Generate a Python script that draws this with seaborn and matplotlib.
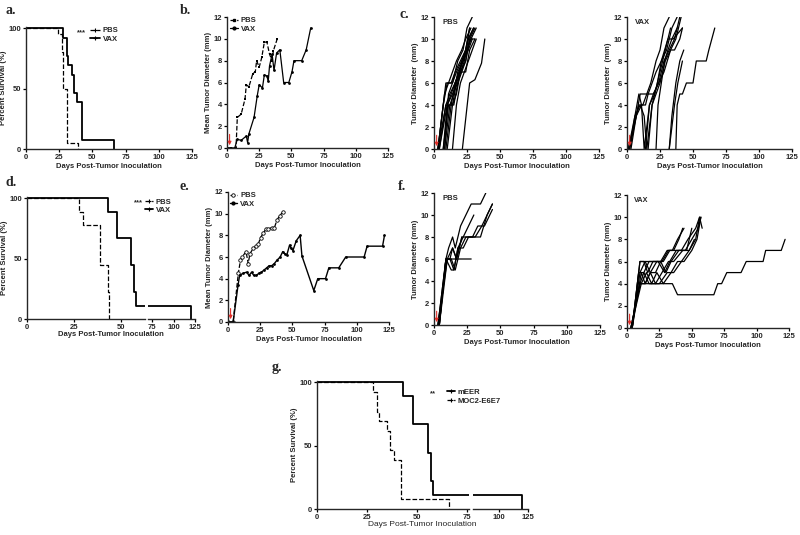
import matplotlib
matplotlib.use("Agg")
import matplotlib.pyplot as plt
from matplotlib.lines import Line2D
import numpy as np
import pandas as pd
import seaborn as sns

# ---------------- data ----------------
# a. survival (percent) step curves
a_pbs_days = [0, 24, 27, 28, 31, 39]
a_pbs_surv = [100, 95, 80, 50, 5, 0]
a_vax_days = [0, 28, 30.5, 32, 35, 36, 38.5, 42, 66]
a_vax_surv = [100, 92.3, 76.9, 69.2, 61.5, 46.2, 38.5, 7.7, 0]

# b. mean tumor diameter
b_pbs_days = [0, 3, 7, 8, 11, 14, 15, 17, 20, 22, 23, 25, 27, 29, 31, 33, 35, 36, 39]
b_pbs_mm = [0, 0, 0, 2.8, 3.1, 4.5, 5.8, 5.6, 6.8, 7.0, 8.0, 7.4, 8.3, 9.7, 9.7, 8.6, 8.0, 8.9, 10.0]
b_vax_days = [0, 3, 6, 8, 11, 15, 16, 17, 21, 23.5, 25, 27.5, 29, 31, 32, 33, 35, 36.5, 38.5,
              41, 44, 48, 50.5, 52, 58, 61.5, 65]
b_vax_mm = [0, 0, 0, 0.8, 0.7, 1.1, 0.5, 1.3, 2.8, 4.8, 5.8, 5.5, 6.7, 6.6, 6.1, 7.5, 8.6, 7.1, 8.7,
            9.0, 6.0, 6.0, 7.0, 8.0, 8.0, 9.0, 11.0]

# c. individual mice, PBS and VAX
c_pbs_days = [
    [3, 7, 10, 14, 18, 22, 25, 29],
    [3, 8, 11, 14, 17, 21, 24, 28],
    [3, 9, 12, 16, 19, 22, 26, 30],
    [4, 9, 14, 17, 20, 24, 27, 31],
    [4, 10, 14, 18, 21, 25, 28],
    [7, 10, 13, 16, 19, 22, 26, 29],
    [7, 11, 15, 18, 21, 24, 27, 31],
    [8, 12, 15, 18, 22, 25, 28, 32],
    [8, 11, 14, 17, 21, 24, 27],
    [9, 13, 16, 20, 23, 26, 30],
    [10, 14, 17, 20, 24, 27, 31],
    [14, 17, 20, 23, 26, 29, 32],
    [21.5, 27, 31, 34, 36, 38.5],
    [3, 6, 9, 13, 16, 20, 24, 27],
]
c_pbs_mm = [
    [0, 4, 6, 6, 8, 9, 11, 12],
    [0, 5, 6, 7, 8, 9, 10, 11],
    [0, 4, 5, 6, 7, 8, 10, 11],
    [0, 4, 4, 6, 7, 8, 10, 11],
    [0, 4, 5, 6, 8, 9, 10],
    [0, 4, 5, 6, 7, 8, 9, 10],
    [0, 4, 4, 6, 7, 8, 10, 10],
    [0, 4, 5, 7, 8, 9, 10, 11],
    [0, 5, 6, 7, 8, 9, 11],
    [0, 4, 6, 7, 8, 10, 11],
    [0, 4, 5, 7, 7, 9, 10],
    [0, 4, 6, 7, 8, 9, 10],
    [0, 6, 6.3, 7.2, 7.8, 10],
    [0, 3, 6, 6, 7, 8, 9, 11],
]
c_vax_days = [
    [1, 5, 9, 12, 15, 18, 22, 25, 28, 32],
    [1, 6, 10, 13, 15, 19, 23, 26, 30, 34, 38],
    [2, 6, 9, 11, 13, 17, 21, 25, 29, 33],
    [2, 7, 11, 14, 16, 20, 24, 28, 32, 36, 40],
    [3, 7, 10, 13, 16, 19, 22, 26, 31, 35, 42],
    [14, 17, 20, 24, 28, 33, 36, 40, 42],
    [16, 19, 22, 25, 29, 33, 37, 41],
    [22, 23.5, 26, 28.5, 31, 34, 38],
    [32, 36, 38.5, 42],
    [32, 34, 37, 40, 43],
    [37, 38, 40, 42, 45, 48, 50, 52.5, 60, 62, 66.5],
]
c_vax_mm = [
    [0, 2, 4, 4, 5, 6, 8, 9, 11, 12],
    [0, 3, 4, 3, 0, 4, 6, 8, 9, 11, 12],
    [0, 3, 5, 4, 0, 4, 5, 7, 9, 11],
    [0, 3, 4, 4, 5, 5, 6, 8, 9, 10, 12],
    [0, 3, 5, 5, 5, 6, 7, 8, 10, 10, 11],
    [0, 4, 5, 6, 7, 9, 9, 10, 11],
    [0, 4, 5, 6, 8, 9, 10, 12],
    [0, 4, 6, 8, 9, 10, 11],
    [0, 4, 6, 8],
    [0, 3, 6, 8, 9],
    [0, 4, 5, 5, 6, 6, 6, 8, 8, 9, 11],
]

# d. survival with broken axis
d_pbs_days = [0, 28, 30, 39, 43, 44]
d_pbs_surv = [100, 88.9, 77.8, 44.4, 22.2, 0]
d_vax_days = [0, 43, 48, 55.5, 57, 58, 120]
d_vax_surv = [100, 88.9, 66.7, 44.4, 22.2, 11.1, 0]

# e. mean tumor diameter
e_pbs_days = [0, 4, 8, 9.7, 11, 14, 15.7, 17, 19.6, 21.7, 23.5, 25.3, 27.4, 29.5, 31.3, 34,
              36, 38, 40, 43]
e_pbs_mm = [0, 0, 4.5, 5.7, 6.0, 6.5, 5.4, 6.3, 6.8, 7.0, 7.2, 7.8, 8.2, 8.6, 8.6, 8.7,
            8.7, 9.4, 9.8, 10.2]
e_vax_days = [0, 4, 7.8, 9, 11.7, 14.4, 16.4, 18.3, 20, 22, 24, 26, 28, 30, 32, 34, 36, 38,
              40.5, 42.5, 44, 45.7, 47.8, 49, 50.4, 53, 56, 57.4, 66.6, 69.7, 75.7, 78.3, 86,
              91.4, 105.7, 108, 120, 121.5]
e_vax_mm = [0, 0, 3.4, 4.3, 4.5, 4.6, 4.3, 4.6, 4.3, 4.3, 4.5, 4.6, 4.8, 5.0, 5.2, 5.2, 5.4,
            5.7, 6.0, 6.5, 6.3, 6.2, 7.1, 6.8, 6.6, 7.5, 8.0, 6.1, 2.9, 4.0, 4.0, 5.0, 5.0,
            6.0, 6.0, 7.0, 7.0, 8.0]

# f. individual mice, PBS and VAX
f_pbs_days = [
    [3, 9, 11, 14, 16, 20, 24, 28, 35, 39],
    [3, 9, 28],
    [4, 9, 13, 15, 18, 22, 26, 30],
    [4, 9, 12, 15, 18, 22, 26, 30, 35, 40, 44],
    [4, 10, 14, 17, 21, 25, 31, 36, 40, 44],
    [3, 10, 13, 16, 20, 24, 29, 33, 38, 44],
    [4, 9, 12, 14, 17, 21],
]
f_pbs_mm = [
    [0, 6, 7, 8, 7, 9, 10, 11, 11, 12],
    [0, 6, 6],
    [0, 6, 5, 5, 7, 8, 9, 10],
    [0, 6, 6, 5, 7, 7, 8, 8, 8, 10, 11],
    [0, 6, 7, 6, 8, 8, 8, 9, 10, 11],
    [0, 6, 6, 5, 7, 8, 8, 9, 9, 10.5],
    [0, 6, 6, 7, 6, 8],
]
f_vax_days = [
    [3, 10, 20, 35, 39, 67, 70, 73, 77, 88, 92, 105, 107, 119, 122],
    [4, 10, 13, 16, 20, 23, 27, 32, 36, 40, 43],
    [4, 10, 14, 18, 22, 26, 31, 35, 39, 44],
    [3, 10, 13, 17, 21, 26, 30, 34, 40, 46, 50],
    [4, 11, 14, 18, 22, 27, 32, 36, 43, 48, 52],
    [4, 10, 15, 19, 24, 29, 33, 38, 45, 50, 55, 57],
    [3, 11, 15, 19, 23, 28, 34, 39, 44, 50, 54, 57],
    [4, 9, 13, 17, 21, 25, 31, 36, 42, 48, 53, 56, 58],
    [3, 10, 14, 18, 23, 28, 33, 38, 42, 47, 53, 56],
]
f_vax_mm = [
    [0, 4, 4, 4, 3, 3, 4, 4, 5, 5, 6, 6, 7, 7, 8],
    [0, 6, 6, 5, 6, 6, 6, 7, 7, 8, 9],
    [0, 5, 6, 5, 5, 6, 7, 7, 8, 9],
    [0, 4, 5, 6, 6, 6, 5, 6, 7, 7, 9],
    [0, 5, 4, 5, 4, 5, 6, 6, 7, 7, 8],
    [0, 6, 6, 6, 6, 5, 6, 7, 7, 8, 9, 10],
    [0, 4, 5, 4, 5, 4, 5, 6, 6, 7, 8, 10],
    [0, 5, 5, 4, 4, 4, 5, 5, 6, 7, 8, 10, 9],
    [0, 4, 4, 5, 6, 6, 7, 7, 7, 8, 9, 10],
]

# g. survival, broken axis
g_meer_days = [0, 43, 48, 55.5, 57, 58, 120]
g_meer_surv = [100, 88.9, 66.7, 44.4, 22.2, 11.1, 0]
g_moc2_days = [0, 28, 30, 31, 35, 36.5, 38.5, 42, 66]
g_moc2_surv = [100, 92.3, 76.9, 69.2, 61.5, 46.2, 38.5, 7.7, 0]

arrow_day = 2
arrow_top = 1.5
day_ticks = [0, 25, 50, 75, 100, 125]
surv_ticks = [0, 50, 100]
mm_ticks = [0, 2, 4, 6, 8, 10, 12]
xlab = "Days Post-Tumor Inoculation"

# ---------------- figure ----------------
sns.set_style("ticks")
plt.rcParams["font.family"] = ["Liberation Sans", "DejaVu Sans"]
W, H = 800, 535
fig = plt.figure(figsize=(8, 5.35), dpi=100)
FS = 5.5


def px_axes(left, right, top, bottom):
    ax = fig.add_axes([left / W, 1 - bottom / H, (right - left) / W, (bottom - top) / H])
    ax.patch.set_alpha(0)
    return ax


def style(ax, xlim, xticks, ylim, yticks, left_spine=True):
    ax.set_xlim(*xlim)
    ax.set_ylim(*ylim)
    ax.set_xticks(xticks)
    sns.despine(ax=ax, left=not left_spine)
    if left_spine:
        ax.set_yticks(yticks)
    else:
        ax.set_yticks([])
    for s in ax.spines.values():
        s.set_linewidth(1.0)
    ax.tick_params(labelsize=FS, width=0.9, length=2.5, pad=1, color="black")
    for t in ax.get_xticklabels() + ax.get_yticklabels():
        t.set_fontweight("bold")
    ax.set_xlabel("")
    ax.set_ylabel("")


def surv(ax, days, vals, dashed):
    sns.lineplot(x=days, y=vals, ax=ax, color="black", drawstyle="steps-post",
                 lw=0.9 if dashed else 1.3, linestyle="--" if dashed else "-",
                 estimator=None, sort=False)


def mice(ax, days_list, mm_list):
    rows = []
    for i, (dd, mm) in enumerate(zip(days_list, mm_list)):
        for d, m in zip(dd, mm):
            rows.append({"mouse": i, "day": d, "mm": m})
    df = pd.DataFrame(rows)
    sns.lineplot(data=df, x="day", y="mm", units="mouse", estimator=None, color="black",
                 lw=0.9, ax=ax, legend=False)


def red_arrow(ax):
    ax.annotate("", xy=(arrow_day, 0), xytext=(arrow_day, arrow_top),
                arrowprops=dict(arrowstyle="-|>", color="#e0302a", lw=0.8, mutation_scale=5),
                annotation_clip=False)


def ylab(ax, text):
    ax.set_ylabel(text, fontsize=FS, fontweight="bold", labelpad=1)


def xlabel(ax, text=xlab):
    ax.set_xlabel(text, fontsize=FS, fontweight="bold", labelpad=1.5)


def legend(ax, handles, labels, x, y, hl=1.3):
    ax.legend(handles, labels, loc="upper left", bbox_to_anchor=(x, y), frameon=False,
              prop={"size": FS, "weight": "bold"}, handlelength=hl, handletextpad=0.4,
              labelspacing=0.15, borderaxespad=0, borderpad=0)


def panel(x, y, s):
    fig.text(x / W, 1 - y / H, s, fontsize=10, fontweight="bold",
             family=["Liberation Serif", "DejaVu Serif"], ha="left", va="center")


dash_h = Line2D([], [], color="black", lw=0.9, ls="--", marker="+", markersize=3, markeredgewidth=0.8)
solid_h = Line2D([], [], color="black", lw=1.3, marker="+", markersize=3, markeredgewidth=0.8)

# a.
ax = px_axes(26, 192, 27, 149)
surv(ax, a_pbs_days, a_pbs_surv, True)
surv(ax, a_vax_days, a_vax_surv, False)
style(ax, (0, 125), day_ticks, (0, 101), surv_ticks)
ylab(ax, "Percent Survival (%)")
xlabel(ax)
legend(ax, [dash_h, solid_h], ["PBS", "VAX"], 0.385, 1.0)
ax.text(0.31, 0.955, "***", transform=ax.transAxes, fontsize=FS, fontweight="bold", va="center")
panel(5, 11, "a.")

# b.
ax = px_axes(227, 388, 17, 148)
sns.lineplot(x=b_pbs_days, y=b_pbs_mm, ax=ax, color="black", lw=0.9, linestyle="--",
             marker="s", markersize=2, markeredgewidth=0, estimator=None, sort=False)
sns.lineplot(x=b_vax_days, y=b_vax_mm, ax=ax, color="black", lw=0.9,
             marker="o", markersize=2, markeredgewidth=0, estimator=None, sort=False)
style(ax, (0, 125), day_ticks, (0, 12), mm_ticks)
red_arrow(ax)
ylab(ax, "Mean Tumor Diameter (mm)")
xlabel(ax)
legend(ax, [Line2D([], [], color="black", lw=0.9, ls="--", marker="s", markersize=2),
            Line2D([], [], color="black", lw=0.9, marker="o", markersize=2)],
       ["PBS", "VAX"], 0.02, 1.0, hl=1.0)
panel(180, 11, "b.")

# c.
ax = px_axes(434, 599, 17, 149)
mice(ax, c_pbs_days, c_pbs_mm)
style(ax, (0, 125), day_ticks, (0, 12), mm_ticks)
red_arrow(ax)
ylab(ax, "Tumor Diameter  (mm)")
xlabel(ax)
ax.text(0.05, 0.955, "PBS", transform=ax.transAxes, fontsize=FS, fontweight="bold", va="center")
panel(400, 15, "c.")

ax = px_axes(627, 792, 17, 149)
mice(ax, c_vax_days, c_vax_mm)
style(ax, (0, 125), day_ticks, (0, 12), mm_ticks)
red_arrow(ax)
ylab(ax, "Tumor Diameter  (mm)")
xlabel(ax)
ax.text(0.05, 0.955, "VAX", transform=ax.transAxes, fontsize=FS, fontweight="bold", va="center")

# d. (broken x axis)
axl = px_axes(27, 145, 197, 319)
axr = px_axes(148, 195, 197, 319)
for a_ in (axl, axr):
    surv(a_, d_pbs_days, d_pbs_surv, True)
    surv(a_, d_vax_days, d_vax_surv, False)
style(axl, (0, 63), [0, 25, 50], (0, 101), surv_ticks)
style(axr, (70, 125), [75, 100, 125], (0, 101), surv_ticks, left_spine=False)
ylab(axl, "Percent Survival (%)")
fig.text(111 / W, 1 - 335 / H, xlab, fontsize=FS, fontweight="bold", ha="center", va="center")
legend(axl, [dash_h, solid_h], ["PBS", "VAX"], 1.0, 0.99, hl=1.0)
axl.text(0.905, 0.955, "***", transform=axl.transAxes, fontsize=FS, fontweight="bold", va="center")
panel(5, 183, "d.")

# e.
ax = px_axes(228, 389, 192, 322)
sns.lineplot(x=e_pbs_days, y=e_pbs_mm, ax=ax, color="black", lw=0.9, linestyle="--",
             marker="o", markersize=2.5, markerfacecolor="white", markeredgewidth=0.6,
             markeredgecolor="black", estimator=None, sort=False)
sns.lineplot(x=e_vax_days, y=e_vax_mm, ax=ax, color="black", lw=1.0,
             marker="o", markersize=2, markeredgewidth=0, estimator=None, sort=False)
style(ax, (0, 125), day_ticks, (0, 12), mm_ticks)
red_arrow(ax)
ylab(ax, "Mean Tumor Diameter (mm)")
xlabel(ax)
legend(ax, [Line2D([], [], color="black", lw=0.9, ls="--", marker="o", markersize=2.5,
                   markerfacecolor="white", markeredgewidth=0.6),
            Line2D([], [], color="black", lw=1.0, marker="o", markersize=2)],
       ["PBS", "VAX"], 0.01, 1.0, hl=1.0)
panel(180, 186, "e.")

# f.
ax = px_axes(434, 600, 193, 325)
mice(ax, f_pbs_days, f_pbs_mm)
style(ax, (0, 125), day_ticks, (0, 12), mm_ticks)
red_arrow(ax)
ylab(ax, "Tumor Diameter (mm)")
xlabel(ax)
ax.text(0.05, 0.955, "PBS", transform=ax.transAxes, fontsize=FS, fontweight="bold", va="center")
panel(398, 186, "f.")

ax = px_axes(627, 789, 195, 328)
mice(ax, f_vax_days, f_vax_mm)
style(ax, (0, 125), day_ticks, (0, 12), mm_ticks)
red_arrow(ax)
ylab(ax, "Tumor Diameter (mm)")
xlabel(ax)
ax.text(0.04, 0.955, "VAX", transform=ax.transAxes, fontsize=FS - 0.3, fontweight="bold", va="center")

# g. (broken x axis)
axl = px_axes(317, 469, 381, 509)
axr = px_axes(473, 528, 381, 509)
for a_ in (axl, axr):
    surv(a_, g_meer_days, g_meer_surv, False)
    surv(a_, g_moc2_days, g_moc2_surv, True)
style(axl, (0, 76), [0, 25, 50, 75], (0, 101), surv_ticks)
style(axr, (78, 125), [100, 125], (0, 101), surv_ticks, left_spine=False)
ylab(axl, "Percent Survival (%)")
fig.text(422 / W, 1 - 524 / H, xlab, fontsize=FS + 0.5, fontweight="normal", ha="center", va="center")
legend(axl, [solid_h, dash_h], ["mEER", "MOC2-E6E7"], 0.855, 0.94, hl=1.0)
axl.text(0.745, 0.9, "**", transform=axl.transAxes, fontsize=FS, fontweight="bold", va="center")
panel(272, 368, "g.")

fig.savefig("out.png", dpi=100, facecolor="white")
